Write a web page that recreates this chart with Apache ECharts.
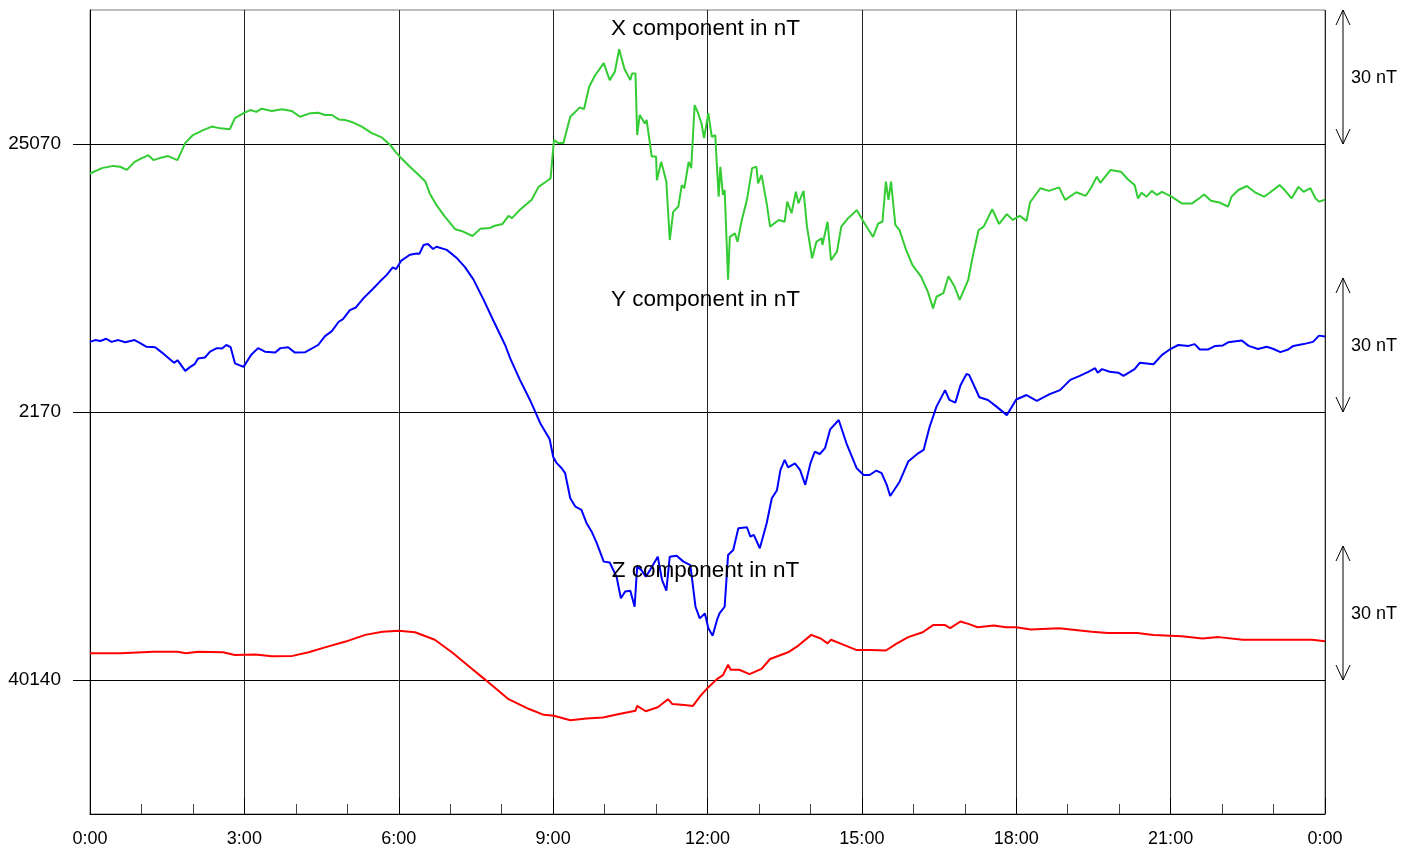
<!DOCTYPE html>
<html>
<head>
<meta charset="utf-8">
<script src="https://cdn.jsdelivr.net/npm/echarts@6/dist/echarts.min.js"></script>
<style>
html,body{margin:0;padding:0;background:#fff;}
#chart{width:1421px;height:852px;}
</style>
</head>
<body>
<div id="chart"></div>
<script>
// ---- data (time in minutes of day, value in nT) ----
const X_BASE = 25070, Y_BASE = 2170, Z_BASE = 40140;
const SCALE_NT = 30;
const TITLES = ['X component in nT', 'Y component in nT', 'Z component in nT'];
const SCALE_LABEL = '30 nT';
const BASE_LABELS = ['25070', '2170', '40140'];

const X_DATA = [[0,25063.4],[14,25064.6],[27,25065.1],[35,25064.9],[43,25064.2],[52,25066.0],[60,25066.8],[68,25067.5],[74,25066.4],[84,25067.0],[91,25067.3],[102,25066.4],[111,25070.2],[120,25072.0],[132,25073.1],[142,25073.9],[152,25073.5],[163,25073.3],[169,25075.8],[179,25076.9],[187,25077.6],[194,25077.2],[200,25077.9],[212,25077.4],[224,25077.8],[235,25077.4],[245,25076.1],[257,25076.9],[266,25077.0],[274,25076.5],[282,25076.5],[290,25075.5],[297,25075.4],[307,25074.8],[317,25073.9],[328,25072.5],[340,25071.5],[350,25069.8],[356,25068.3],[363,25066.8],[373,25064.9],[383,25063.1],[391,25061.6],[396,25059.0],[404,25056.3],[414,25053.7],[426,25050.9],[435,25050.4],[446,25049.4],[455,25051.0],[466,25051.2],[472,25051.7],[481,25052.1],[488,25053.9],[492,25053.4],[501,25055.2],[515,25057.5],[523,25060.4],[532,25061.6],[537,25062.3],[541,25070.9],[546,25070.2],[552,25070.2],[560,25076.1],[566,25077.2],[571,25078.2],[576,25077.8],[582,25082.8],[589,25085.4],[599,25088.1],[606,25084.3],[612,25086.2],[617,25091.2],[623,25086.9],[630,25084.3],[632,25085.8],[636,25085.8],[638,25072.0],[641,25076.5],[647,25074.6],[649,25075.4],[655,25067.2],[660,25067.2],[661,25061.9],[666,25066.0],[672,25061.6],[676,25048.5],[680,25054.8],[686,25056.0],[690,25060.8],[693,25060.1],[698,25066.0],[701,25064.6],[705,25078.7],[709,25076.9],[713,25074.6],[716,25071.3],[721,25076.9],[725,25071.6],[729,25072.0],[733,25058.2],[735,25064.9],[738,25058.6],[740,25059.7],[744,25039.6],[746,25049.2],[752,25050.0],[755,25048.1],[760,25053.0],[766,25057.5],[772,25064.6],[777,25064.9],[779,25061.2],[783,25063.1],[789,25056.7],[793,25051.5],[803,25053.0],[810,25052.6],[813,25057.1],[818,25054.5],[823,25059.3],[826,25056.7],[832,25059.5],[836,25051.5],[842,25044.4],[847,25048.1],[853,25048.9],[854,25047.4],[860,25052.6],[864,25044.0],[871,25045.9],[876,25051.5],[884,25053.4],[894,25055.2],[902,25052.6],[913,25049.2],[919,25052.2],[924,25052.6],[928,25061.6],[931,25057.5],[934,25061.6],[939,25051.9],[944,25050.7],[951,25046.6],[959,25042.9],[969,25040.3],[977,25036.9],[983,25033.2],[987,25035.8],[995,25036.6],[1001,25040.4],[1008,25038.1],[1014,25035.1],[1024,25039.6],[1030,25045.5],[1036,25050.7],[1042,25051.5],[1052,25055.4],[1060,25052.1],[1069,25054.3],[1076,25053.0],[1084,25053.9],[1092,25052.8],[1096,25056.9],[1108,25060.1],[1118,25059.5],[1130,25060.3],[1137,25057.5],[1150,25059.2],[1161,25058.4],[1167,25060.1],[1174,25062.7],[1178,25061.3],[1190,25064.2],[1202,25063.8],[1210,25062.1],[1218,25060.8],[1222,25057.8],[1226,25059.1],[1232,25058.2],[1238,25059.5],[1244,25058.6],[1250,25059.3],[1261,25058.2],[1273,25056.7],[1285,25056.7],[1293,25057.8],[1299,25058.7],[1307,25057.3],[1317,25056.9],[1327,25056.0],[1331,25058.2],[1339,25059.7],[1349,25060.6],[1359,25059.1],[1369,25058.2],[1377,25059.3],[1387,25060.8],[1393,25059.7],[1401,25057.8],[1409,25060.4],[1415,25059.3],[1423,25060.1],[1429,25057.8],[1433,25057.1],[1440,25057.5]];

const Y_DATA = [[0,2185.7],[6,2186.1],[12,2185.9],[19,2186.4],[25,2185.7],[33,2186.1],[41,2185.6],[52,2186.1],[58,2185.5],[66,2184.6],[76,2184.5],[84,2183.3],[89,2182.5],[98,2181.0],[102,2181.6],[111,2179.2],[117,2180.1],[122,2180.7],[126,2182.0],[134,2182.2],[140,2183.5],[148,2184.3],[154,2184.2],[159,2185.0],[164,2184.5],[169,2180.9],[179,2180.1],[188,2182.8],[196,2184.3],[204,2183.5],[216,2183.3],[222,2184.3],[231,2184.5],[239,2183.3],[251,2183.4],[266,2185.0],[274,2187.0],[282,2188.1],[290,2190.2],[295,2190.8],[303,2192.8],[310,2193.4],[319,2195.5],[330,2197.6],[338,2199.2],[346,2200.7],[353,2202.4],[357,2202.0],[363,2203.9],[373,2205.2],[381,2205.5],[384,2205.4],[389,2207.4],[394,2207.6],[400,2206.5],[404,2207.0],[416,2206.3],[428,2204.4],[437,2202.5],[447,2199.7],[459,2195.1],[470,2190.6],[484,2185.0],[490,2182.0],[501,2177.3],[513,2172.7],[525,2167.5],[536,2163.9],[540,2160.0],[544,2158.6],[550,2157.4],[554,2156.3],[560,2150.7],[566,2148.8],[573,2148.1],[579,2145.1],[585,2143.2],[591,2140.6],[599,2136.5],[606,2136.3],[614,2133.1],[619,2128.3],[624,2129.8],[630,2130.0],[635,2126.4],[638,2135.4],[643,2134.6],[648,2133.1],[653,2134.6],[662,2137.6],[667,2132.4],[672,2130.0],[676,2137.6],[684,2137.8],[692,2136.5],[700,2135.7],[706,2126.4],[711,2123.8],[717,2124.9],[721,2121.6],[726,2119.9],[731,2123.4],[734,2124.9],[740,2126.4],[744,2138.0],[750,2139.1],[756,2144.0],[766,2144.2],[770,2142.1],[774,2142.5],[781,2139.5],[789,2145.1],[795,2150.7],[801,2152.5],[805,2157.0],[810,2159.3],[814,2157.6],[822,2158.5],[828,2157.0],[834,2153.7],[840,2158.5],[845,2161.1],[851,2160.6],[857,2161.9],[863,2166.1],[873,2168.2],[882,2163.0],[894,2157.4],[902,2155.9],[909,2155.9],[917,2156.9],[923,2156.3],[929,2153.7],[933,2151.2],[944,2154.4],[954,2158.9],[966,2160.8],[972,2161.5],[979,2166.7],[987,2171.2],[997,2174.9],[1002,2172.7],[1009,2172.1],[1015,2176.0],[1022,2178.5],[1025,2178.3],[1037,2173.3],[1047,2172.7],[1057,2171.2],[1069,2169.3],[1080,2172.8],[1092,2173.8],[1104,2172.5],[1119,2174.0],[1131,2174.9],[1143,2177.2],[1154,2178.1],[1164,2179.0],[1172,2179.8],[1175,2178.8],[1180,2179.6],[1189,2179.0],[1199,2178.8],[1205,2178.1],[1218,2179.6],[1224,2181.0],[1240,2180.7],[1250,2182.8],[1259,2184.0],[1269,2185.0],[1281,2184.8],[1288,2185.2],[1294,2184.0],[1304,2184.0],[1312,2184.8],[1321,2184.9],[1327,2185.6],[1343,2186.0],[1351,2184.8],[1362,2184.1],[1372,2184.6],[1380,2184.1],[1388,2183.4],[1397,2184.0],[1403,2184.8],[1415,2185.2],[1426,2185.7],[1433,2187.1],[1440,2186.9]];

const Z_DATA = [[0,40146.0],[36,40146.0],[74,40146.3],[102,40146.3],[112,40146.0],[126,40146.3],[155,40146.2],[169,40145.6],[193,40145.7],[212,40145.3],[236,40145.4],[255,40146.2],[274,40147.3],[298,40148.6],[321,40150.1],[341,40150.8],[360,40151.0],[379,40150.7],[402,40149.0],[422,40146.2],[441,40143.2],[460,40140.2],[488,40135.7],[512,40133.5],[529,40132.2],[541,40132.0],[560,40131.0],[579,40131.4],[598,40131.6],[617,40132.4],[636,40133.1],[638,40134.2],[648,40133.0],[662,40133.9],[674,40135.7],[679,40134.6],[693,40134.4],[703,40134.2],[712,40136.5],[721,40138.4],[731,40140.2],[738,40141.1],[744,40143.4],[747,40142.3],[757,40142.3],[769,40141.3],[783,40142.5],[793,40144.7],[814,40146.2],[826,40147.7],[841,40150.1],[852,40149.3],[860,40148.2],[864,40149.0],[876,40148.1],[894,40146.7],[911,40146.7],[928,40146.6],[940,40148.1],[954,40149.6],[971,40150.7],[983,40152.3],[997,40152.3],[1003,40151.6],[1015,40153.1],[1025,40152.5],[1035,40151.8],[1054,40152.2],[1068,40151.8],[1080,40151.8],[1097,40151.3],[1130,40151.6],[1168,40150.8],[1187,40150.5],[1221,40150.5],[1240,40150.1],[1273,40149.8],[1297,40149.3],[1316,40149.6],[1344,40149.0],[1378,40149.0],[1401,40149.0],[1425,40149.0],[1440,40148.7]];

// ---- layout / style ----
const FONT = '"Liberation Sans", Arial, Helvetica, sans-serif';
const BASES = [X_BASE, Y_BASE, Z_BASE];
const LEVELS = [5, 3, 1];            // where each base line sits on the 6-band guide axis
const COLORS = ['#33cc33', '#0000ff', '#ff0000'];
const TITLE_OFFSETS = [18, 21, 24];

function compAxis(i) {
  return {
    type: 'value', show: false, gridIndex: 0,
    min: BASES[i] - LEVELS[i] * SCALE_NT,
    max: BASES[i] + (6 - LEVELS[i]) * SCALE_NT,
    splitLine: { show: false }
  };
}

const chart = echarts.init(document.getElementById('chart'), null, { renderer: 'canvas' });

const option = {
  animation: false,
  backgroundColor: '#ffffff',
  grid: { left: 90, right: 96, top: 10, bottom: 38, show: true, borderColor: '#777', borderWidth: 1, backgroundColor: 'transparent' },
  xAxis: {
    type: 'value', min: 0, max: 1440, interval: 180,
    axisLine: { show: true, lineStyle: { color: '#000', width: 1 } },
    axisTick: { show: true, inside: true, length: 16, lineStyle: { color: '#000' } },
    minorTick: { show: true, splitNumber: 3, length: 10, lineStyle: { color: '#444' } },
    splitLine: { show: true, lineStyle: { color: '#222', width: 1 } },
    axisLabel: {
      color: '#000', fontSize: 18, fontFamily: FONT, margin: 16,
      formatter: function (v) {
        const h = Math.floor(v / 60) % 24, m = Math.round(v % 60);
        return h + ':' + (m < 10 ? '0' : '') + m;
      }
    }
  },
  yAxis: [
    {
      type: 'value', min: 0, max: 6, interval: 1,
      axisLine: { show: true, lineStyle: { color: '#000' } },
      axisTick: { show: true, customValues: LEVELS, length: 17, lineStyle: { color: '#000' } },
      splitLine: { show: true, lineStyle: { color: '#000', width: 1 } },
      axisLabel: {
        customValues: LEVELS, color: '#000', fontSize: 19, fontFamily: FONT, margin: 29,
        formatter: function (v) { const i = LEVELS.indexOf(Math.round(v)); return i >= 0 ? BASE_LABELS[i] : ''; }
      }
    },
    compAxis(0), compAxis(1), compAxis(2)
  ],
  series: [X_DATA, Y_DATA, Z_DATA].map(function (d, i) {
    return {
      type: 'line', name: TITLES[i], yAxisIndex: i + 1, data: d,
      showSymbol: false, symbol: 'none', smooth: false, clip: true,
      lineStyle: { color: COLORS[i], width: 2 }, z: 3 + i
    };
  })
};
chart.setOption(option);

// annotations: titles, 30 nT scale arrows (positions derived from the axes)
const graphics = [];
const xRight = chart.convertToPixel({ xAxisIndex: 0 }, 1440);
const xMid = chart.convertToPixel({ xAxisIndex: 0 }, 720);
for (let i = 0; i < 3; i++) {
  const yTop = chart.convertToPixel({ yAxisIndex: i + 1 }, BASES[i] + SCALE_NT);
  const yBot = chart.convertToPixel({ yAxisIndex: i + 1 }, BASES[i]);
  const ax = xRight + 18;
  const hl = 15, hw = 7;
  graphics.push({
    type: 'text', z: 100,
    style: { text: TITLES[i], x: xMid - 2, y: yTop + TITLE_OFFSETS[i] + 1, align: 'center', verticalAlign: 'middle',
             fontSize: 22.5, fontFamily: FONT, fill: '#000' }
  });
  graphics.push({ type: 'line', z: 100, shape: { x1: ax, y1: yTop, x2: ax, y2: yBot }, style: { stroke: '#000', lineWidth: 1 } });
  graphics.push({ type: 'polyline', z: 100, shape: { points: [[ax - hw, yTop + hl], [ax, yTop], [ax + hw, yTop + hl]] }, style: { stroke: '#000', lineWidth: 1, fill: null } });
  graphics.push({ type: 'polyline', z: 100, shape: { points: [[ax - hw, yBot - hl], [ax, yBot], [ax + hw, yBot - hl]] }, style: { stroke: '#000', lineWidth: 1, fill: null } });
  graphics.push({
    type: 'text', z: 100,
    style: { text: SCALE_LABEL, x: ax + 8, y: (yTop + yBot) / 2 + 1, align: 'left', verticalAlign: 'middle',
             fontSize: 18, fontFamily: FONT, fill: '#000' }
  });
}
chart.setOption({ graphic: graphics });
</script>
</body>
</html>
